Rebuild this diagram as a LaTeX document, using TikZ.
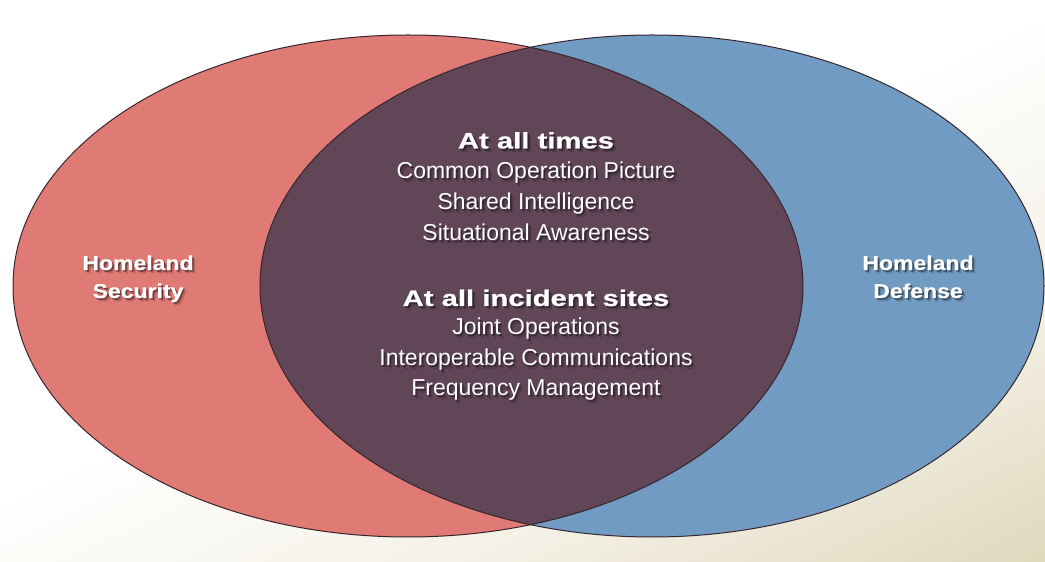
\documentclass[tikz,border=0pt]{standalone}
\usepackage{fontspec}
\setmainfont{Liberation Sans}
\newfontfamily\headfont[FakeStretch=1.3,FakeBold=0.8]{Liberation Sans}
\newfontfamily\sidefont[FakeStretch=1.15,FakeBold=0.5]{Liberation Sans}
\definecolor{redfill}{RGB}{224,122,117}
\definecolor{bluefill}{RGB}{113,155,194}
\definecolor{purplefill}{RGB}{96,70,87}
\definecolor{edgecol}{RGB}{55,38,45}
\definecolor{bgA}{RGB}{243,240,229}
\definecolor{bgB}{RGB}{224,216,188}
\definecolor{bgC}{RGB}{198,186,144}
\pgfdeclarehorizontalshading{bgshade}{100bp}{color(0bp)=(white); color(49bp)=(white); color(60bp)=(bgA); color(70bp)=(bgB); color(79bp)=(bgC); color(100bp)=(bgC)}
\tikzset{
  txt/.style={inner sep=0pt, anchor=base, text=white},
  shadowA/.style={inner sep=0pt, anchor=base, text=black, opacity=.38},
  shadowB/.style={inner sep=0pt, anchor=base, text=black, opacity=.15},
  outline/.style={draw=edgecol, line width=1pt},
  headtxt/.style={font=\headfont\bfseries\fontsize{22.5}{25}\selectfont},
  bodytxt/.style={font=\fontsize{23}{26}\selectfont},
  sidetxt/.style={font=\sidefont\bfseries\fontsize{20}{22}\selectfont}
}
\newcommand{\stxt}[5]{%
  \node[shadowB, #4, xshift=3.2pt, yshift=-3.2pt] (#1sb) at (#2,#3) {#5};
  \node[shadowA, #4, xshift=1.6pt, yshift=-1.6pt] (#1sa) at (#2,#3) {#5};
  \node[txt, #4] (#1) at (#2,#3) {#5};}
\begin{document}
\begin{tikzpicture}[x=1pt,y=1pt]
\useasboundingbox (0,0) rectangle (1045,562);
\begin{scope}
  \clip (0,0) rectangle (1045,562);
  \shade[shading=bgshade, shading angle=-65] (-77.5,-319) rectangle (1122.5,881);
\end{scope}
% ellipses
\fill[redfill] (408,276) ellipse [x radius=395, y radius=251];
\fill[bluefill] (652,276) ellipse [x radius=392, y radius=251];
\begin{scope}
  \clip (408,276) ellipse [x radius=395, y radius=251];
  \fill[purplefill] (652,276) ellipse [x radius=392, y radius=251];
\end{scope}
\draw[outline] (408,276) ellipse [x radius=395, y radius=251];
\draw[outline] (652,276) ellipse [x radius=392, y radius=251];
% side labels
\stxt{hs1}{138}{292}{sidetxt}{Homeland}
\stxt{hs2}{138}{264}{sidetxt}{Security}
\stxt{hd1}{918}{292}{sidetxt}{Homeland}
\stxt{hd2}{918}{264}{sidetxt}{Defense}
% centre text
\stxt{t1}{536}{413.5}{headtxt}{At all times}
\stxt{t2}{536}{383}{bodytxt}{Common Operation Picture}
\stxt{t3}{536}{352}{bodytxt}{Shared Intelligence}
\stxt{t4}{536}{321.5}{bodytxt}{Situational Awareness}
\stxt{t5}{536}{256}{headtxt}{At all incident sites}
\stxt{t6}{536}{227}{bodytxt}{Joint Operations}
\stxt{t7}{536}{196}{bodytxt}{Interoperable Communications}
\stxt{t8}{536}{166}{bodytxt}{Frequency Management}
\end{tikzpicture}
\end{document}
